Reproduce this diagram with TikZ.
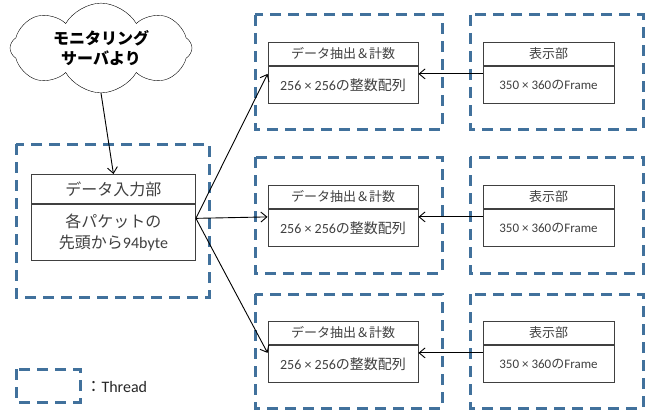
\documentclass[tikz,border=0pt]{standalone}
\usepackage{fontspec}
\setmainfont{Carlito}
\newfontfamily\jp{Noto Sans CJK JP}
\usetikzlibrary{arrows.meta,positioning,shapes.symbols}
\definecolor{threadblue}{RGB}{65,113,156}
\definecolor{boxgray}{RGB}{64,64,64}
\tikzset{
  thread/.style={draw=threadblue, line width=3pt, dash pattern=on 11pt off 7pt},
  part/.style={draw=boxgray, line width=0.9pt, fill=white, inner sep=0pt, text=boxgray, align=center},
  headbox/.style={part, minimum height=23pt, font=\fontsize{13}{15}\selectfont},
  bodybox/.style={part, minimum height=37pt, font=\fontsize{13}{15}\selectfont},
  link/.style={-{Straight Barb[length=6pt,width=10pt]}, line width=0.9pt}
}
\begin{document}
\begin{tikzpicture}[x=1pt,y=-1pt]
		%%%%% START %%%%%
		\useasboundingbox (0,0) rectangle (651,412);

		% input thread
		\draw[thread] (16,144) rectangle (209,297);
		\node[headbox, minimum width=164pt, minimum height=29pt, anchor=north west,
		  font=\fontsize{16}{18}\selectfont] (inh) at (31,174) {\jp データ入力部};
		\node[bodybox, minimum width=164pt, minimum height=56pt, anchor=north,
		  font=\fontsize{16}{21}\selectfont] (inb) at (inh.south) {\jp 各パケットの\\{\jp 先頭から}94byte};

		\node[cloud, draw, cloud puffs=8, cloud puff arc=120, aspect=2.1, minimum width=182pt, minimum height=85pt,
		  inner sep=0pt, align=center, font=\fontsize{16}{20}\selectfont\bfseries] (src) at (101,48)
		  {\jp モニタリング\\\jp サーバより};
		\draw[link] (src.south) -- (inh.north);

		\coordinate (fan) at ([yshift=14pt]inb.east);

		% worker threads
		\foreach \r/\ty/\by/\hy in {1/15/129/42, 2/157/273/185, 3/294/408/321} {
			\draw[thread] (255,\ty) rectangle (442,\by);
			\draw[thread] (470,\ty) rectangle (643,\by);

			\node[headbox, minimum width=150pt, anchor=north] (m\r h) at (343,\hy) {\jp データ抽出＆計数};
			\node[bodybox, minimum width=150pt, anchor=north, font=\fontsize{14}{16}\selectfont] (m\r b) at (m\r h.south) {256 × 256{\jp の整数配列}};

			\node[headbox, minimum width=131pt, anchor=north] (d\r h) at (548.5,\hy) {\jp 表示部};
			\node[bodybox, minimum width=131pt, anchor=north] (d\r b) at (d\r h.south) {350 × 360{\jp の}Frame};

			\draw[link] (fan) -- ([yshift=-8pt]m\r b.north west);
			\draw[link] ([yshift=-8pt]d\r b.north west) -- ([yshift=-8pt]m\r b.north east);
		}

		% legend
		\draw[thread] (16,369) rectangle (80,402);
		\node[anchor=west, font=\fontsize{16}{18}\selectfont, text=black!85] (legend) at (82,387) {{\jp ：}Thread};

		%%%%% END %%%%%
\end{tikzpicture}
\end{document}
